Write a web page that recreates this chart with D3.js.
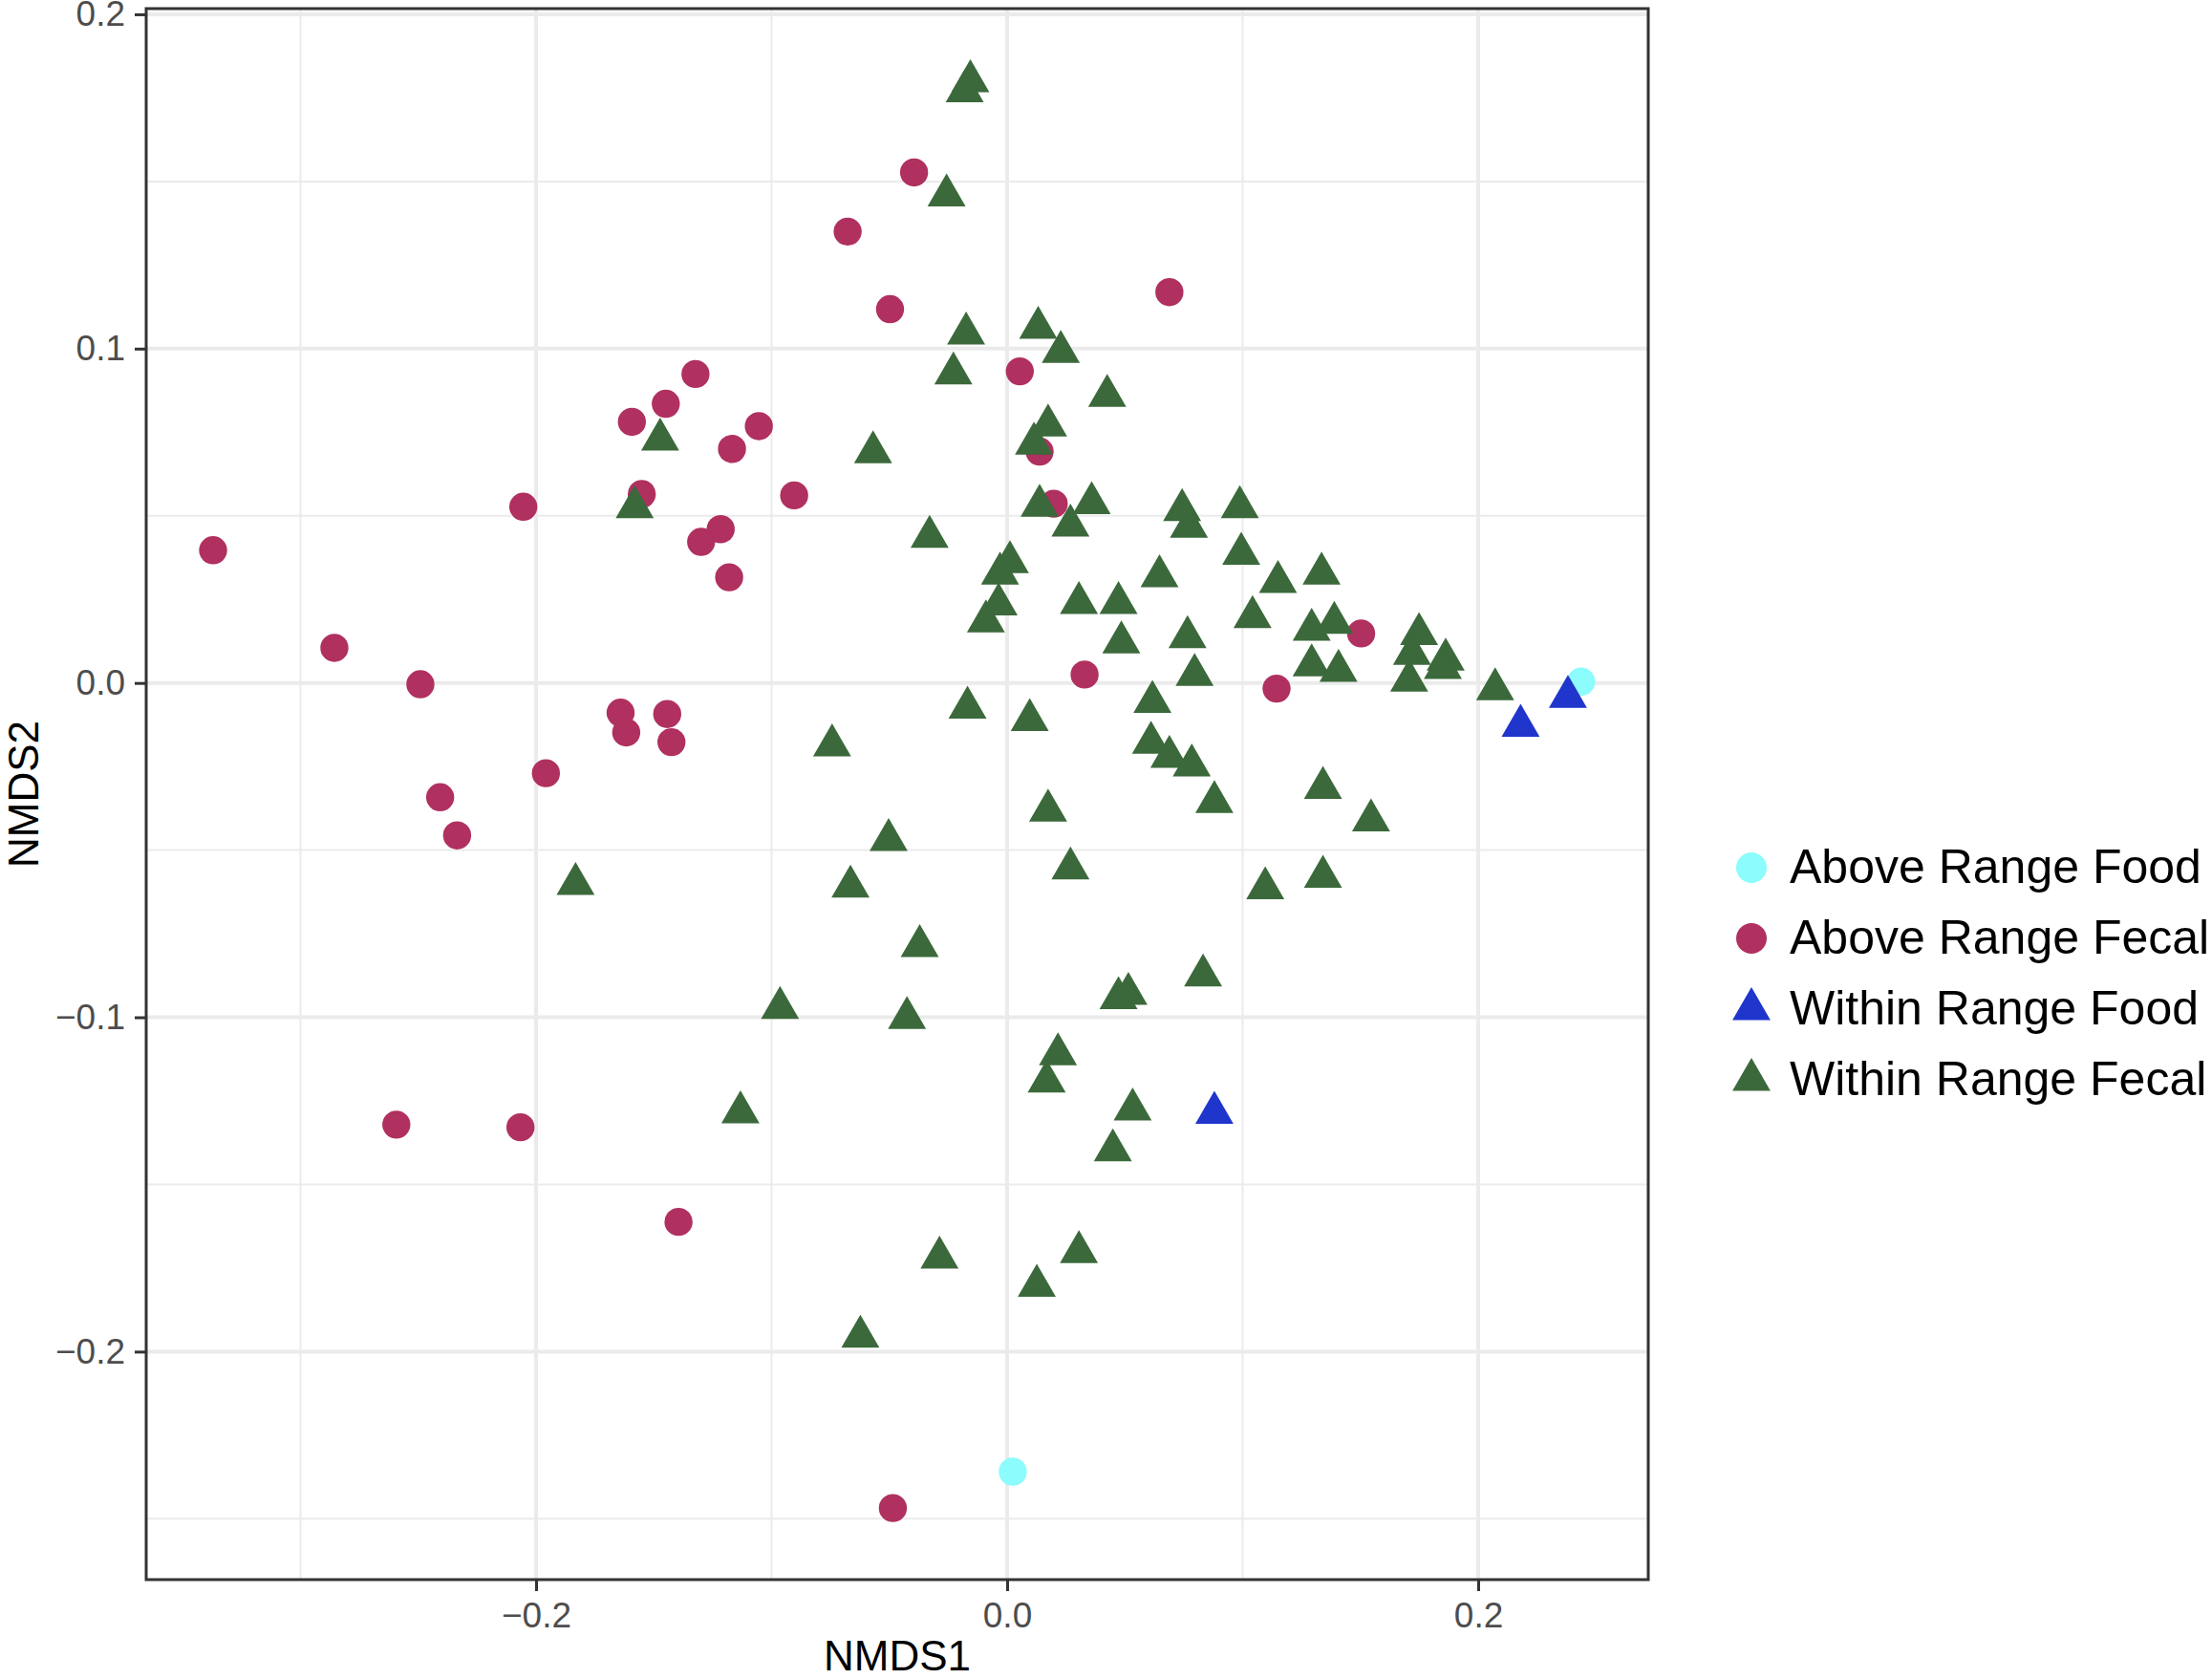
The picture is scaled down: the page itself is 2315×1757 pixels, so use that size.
<!DOCTYPE html>
<html>
<head>
<meta charset="utf-8">
<script src="https://cdn.jsdelivr.net/npm/d3@7"></script>
<style>
  body { margin: 0; background: #fff; }
  text { font-family: "Liberation Sans", Arial, Helvetica, sans-serif; }
</style>
</head>
<body>
<div id="chart"></div>
<script>
// NMDS ordination points
const groups = ["Above Range Food", "Above Range Fecal", "Within Range Food", "Within Range Fecal"];
const colors = ["#8cfcfc", "#b03060", "#1f35cc", "#3b693b"];
const shapes = ["circle", "circle", "triangle", "triangle"];

const aboveFood = [[0.2437, 0.0004], [0.0024, -0.2359]];

const aboveFecal = [
  [-0.3371, 0.0397], [-0.2856, 0.0105], [-0.2491, -0.0004], [-0.2407, -0.0342],
  [-0.2335, -0.0456], [-0.2054, 0.0527], [-0.1958, -0.0270], [-0.1641, -0.0089],
  [-0.1617, -0.0148], [-0.1593, 0.0781], [-0.1551, 0.0565], [-0.1443, -0.0093],
  [-0.1425, -0.0177], [-0.1449, 0.0835], [-0.1323, 0.0924], [-0.1299, 0.0422],
  [-0.1216, 0.0460], [-0.1180, 0.0316], [-0.1168, 0.0700], [-0.1054, 0.0768],
  [-0.0904, 0.0561], [-0.0677, 0.1350], [-0.0395, 0.1527], [-0.0497, 0.1118],
  [0.0054, 0.0932], [0.0138, 0.0692], [0.0198, 0.0536], [0.0689, 0.1169],
  [0.0329, 0.0025], [0.1144, -0.0017], [0.1503, 0.0148], [-0.2593, -0.1321],
  [-0.2066, -0.1329], [-0.1395, -0.1612], [-0.0485, -0.2468]
];

const withinFood = [[0.2381, -0.0042], [0.2180, -0.0128], [0.0880, -0.1286]];

const withinFecal = [
  [-0.0156, 0.1800], [-0.0180, 0.1770], [-0.0257, 0.1458], [-0.0174, 0.1045],
  [0.0132, 0.1062], [0.0228, 0.0990], [-0.0228, 0.0926], [0.0425, 0.0859],
  [0.0174, 0.0770], [0.0114, 0.0716], [-0.1473, 0.0728], [-0.1581, 0.0526],
  [-0.0569, 0.0690], [-0.0329, 0.0437], [0.0138, 0.0530], [0.0359, 0.0538],
  [0.0269, 0.0471], [0.0743, 0.0517], [0.0772, 0.0467], [0.0988, 0.0526],
  [0.0994, 0.0386], [0.0012, 0.0361], [-0.0030, 0.0327], [-0.0036, 0.0235],
  [-0.0090, 0.0184], [0.0305, 0.0239], [0.0473, 0.0239], [0.0647, 0.0319],
  [0.1150, 0.0302], [0.1335, 0.0327], [0.1042, 0.0197], [0.0766, 0.0137],
  [0.0485, 0.0121], [0.1293, 0.0159], [0.1389, 0.0180], [0.1293, 0.0053],
  [0.1407, 0.0036], [0.0796, 0.0024], [0.1749, 0.0146], [0.1719, 0.0087],
  [0.1862, 0.0070], [0.1850, 0.0045], [0.1707, 0.0007], [0.2072, -0.0019],
  [0.0617, -0.0057], [-0.0168, -0.0074], [0.0096, -0.0111], [0.0611, -0.0179],
  [0.0689, -0.0221], [0.0784, -0.0247], [0.0880, -0.0356], [-0.0743, -0.0187],
  [0.0174, -0.0382], [0.1341, -0.0314], [0.1545, -0.0411], [-0.0503, -0.0470],
  [0.0269, -0.0555], [-0.0665, -0.0609], [-0.1832, -0.0601], [0.1096, -0.0614],
  [0.1341, -0.0580], [-0.0371, -0.0787], [0.0832, -0.0875], [0.0515, -0.0930],
  [0.0473, -0.0943], [-0.0964, -0.0972], [-0.0425, -0.1002], [0.0216, -0.1111],
  [0.0168, -0.1192], [0.0533, -0.1276], [-0.1132, -0.1284], [0.0449, -0.1398],
  [-0.0287, -0.1719], [0.0305, -0.1702], [0.0126, -0.1803], [-0.0623, -0.1955]
];

const seriesPoints = [aboveFood, aboveFecal, withinFood, withinFecal];

const xTicks = [-0.2, 0.0, 0.2];
const xMinor = [-0.3, -0.1, 0.1];
const yTicks = [-0.2, -0.1, 0.0, 0.1, 0.2];
const yMinor = [-0.25, -0.15, -0.05, 0.05, 0.15];

const W = 2315, H = 1757;
const margin = {top: 9, right: 590, bottom: 104, left: 153};
const pw = W - margin.left - margin.right;
const ph = H - margin.top - margin.bottom;

const x = d3.scaleLinear().domain([-0.3655, 0.2722]).range([0, pw]);
const y = d3.scaleLinear().domain([-0.2682, 0.2017]).range([ph, 0]);
const fmt = d3.format(".1f");

const svg = d3.select("#chart").append("svg")
    .attr("width", W)
    .attr("height", H);

const g = svg.append("g")
    .attr("transform", "translate(" + margin.left + "," + margin.top + ")");

// grid, minor first then major
g.selectAll(".xminor").data(xMinor).enter().append("line")
    .attr("x1", d => x(d)).attr("x2", d => x(d))
    .attr("y1", 0).attr("y2", ph)
    .attr("stroke", "#ebebeb").attr("stroke-width", 2);
g.selectAll(".yminor").data(yMinor).enter().append("line")
    .attr("y1", d => y(d)).attr("y2", d => y(d))
    .attr("x1", 0).attr("x2", pw)
    .attr("stroke", "#ebebeb").attr("stroke-width", 2);
g.selectAll(".xmajor").data(xTicks).enter().append("line")
    .attr("x1", d => x(d)).attr("x2", d => x(d))
    .attr("y1", 0).attr("y2", ph)
    .attr("stroke", "#ebebeb").attr("stroke-width", 4);
g.selectAll(".ymajor").data(yTicks).enter().append("line")
    .attr("y1", d => y(d)).attr("y2", d => y(d))
    .attr("x1", 0).attr("x2", pw)
    .attr("stroke", "#ebebeb").attr("stroke-width", 4);

// points
const circleR = 14.7;
const triR = 23;
const triPath = d3.symbol().type(d3.symbolTriangle).size(3 * Math.sqrt(3) / 4 * triR * triR);

seriesPoints.forEach(function (pts, i) {
    let sel = g.append("g").selectAll("path").data(pts).enter();
    if (shapes[i] === "circle") {
        sel.append("circle")
            .attr("cx", d => x(d[0]))
            .attr("cy", d => y(d[1]))
            .attr("r", circleR)
            .attr("fill", colors[i]);
    } else {
        sel.append("path")
            .attr("d", triPath)
            .attr("transform", d => "translate(" + x(d[0]) + "," + y(d[1]) + ")")
            .attr("fill", colors[i]);
    }
});

// panel border
g.append("rect")
    .attr("width", pw).attr("height", ph)
    .attr("fill", "none")
    .attr("stroke", "#333333")
    .attr("stroke-width", 3);

// axes
const xAxis = g.append("g")
    .attr("transform", "translate(0," + ph + ")")
    .call(d3.axisBottom(x).tickValues(xTicks).tickFormat(fmt).tickSize(12).tickPadding(12));
const yAxis = g.append("g")
    .call(d3.axisLeft(y).tickValues(yTicks).tickFormat(fmt).tickSize(12).tickPadding(10));

[xAxis, yAxis].forEach(function (a) {
    a.select(".domain").remove();
    a.selectAll(".tick line").attr("stroke", "#333333").attr("stroke-width", 3);
    a.selectAll(".tick text")
        .attr("fill", "#4d4d4d")
        .style("font-size", "37px")
        .style("font-family", "'Liberation Sans', Arial, sans-serif");
});

// axis titles
svg.append("text")
    .attr("x", margin.left + pw / 2)
    .attr("y", 1748)
    .attr("text-anchor", "middle")
    .style("font-size", "44px")
    .text("NMDS1");

svg.append("text")
    .attr("transform", "translate(40," + (margin.top + ph / 2) + ") rotate(-90)")
    .attr("text-anchor", "middle")
    .style("font-size", "44px")
    .text("NMDS2");

// legend
const legend = svg.append("g").attr("transform", "translate(1833,908)");
const items = legend.selectAll("g").data(groups).enter().append("g")
    .attr("transform", (d, i) => "translate(0," + (i * 74) + ")");

items.each(function (d, i) {
    let item = d3.select(this);
    if (shapes[i] === "circle") {
        item.append("circle").attr("r", 16).attr("fill", colors[i]);
    } else {
        item.append("path")
            .attr("d", d3.symbol().type(d3.symbolTriangle).size(3 * Math.sqrt(3) / 4 * 23 * 23))
            .attr("fill", colors[i]);
    }
    item.append("text")
        .attr("x", 40)
        .attr("y", 16)
        .style("font-size", "50px")
        .attr("fill", "#000")
        .text(d);
});
</script>
</body>
</html>
